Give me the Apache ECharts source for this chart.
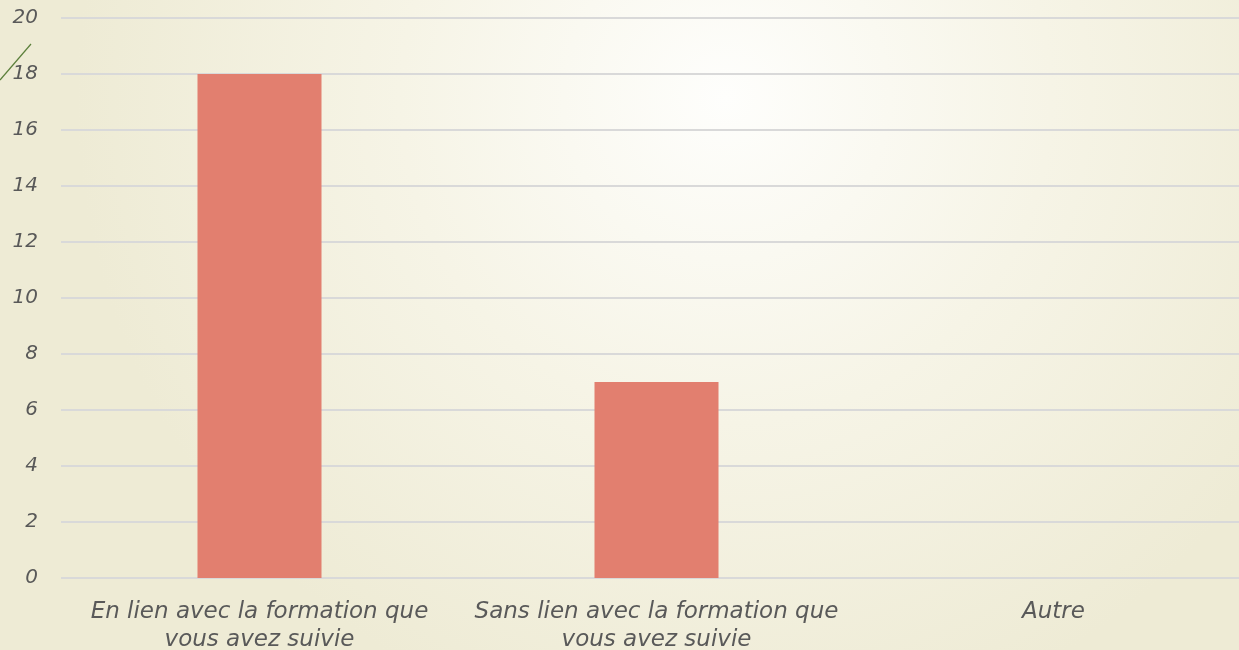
<!DOCTYPE html>
<html style="height: 100%">
    <head>
        <meta charset="utf-8">
        <script src="https://cdn.jsdelivr.net/npm/echarts@6/dist/echarts.min.js"></script>
    </head>
    <body style="height: 100%; margin: 0; overflow: hidden">
        <div id="container" style="height: 100%; width: 1252px"></div>
    </body>
<script>
var categories = ['En lien avec la formation que\nvous avez suivie', 'Sans lien avec la formation que\nvous avez suivie', 'Autre'];
var values = [18, 7, 0];
var yTicks = [0, 2, 4, 6, 8, 10, 12, 14, 16, 18, 20];

var myChart = echarts.init(document.getElementById('container'));
var labelFont = 'DejaVu Sans';

var option = {
    backgroundColor: {
        type: 'radial', x: 0.58, y: 0.15, r: 1.0,
        colorStops: [
            { offset: 0, color: '#fefefc' },
            { offset: 0.5, color: '#f6f4e6' },
            { offset: 1, color: '#eeebd5' }
        ]
    },
    animation: false,
    grid: { left: 61, right: 0, top: 18, bottom: 72, containLabel: false, outerBoundsMode: 'none' },
    xAxis: {
        type: 'category',
        data: categories,
        axisLine: { show: false },
        axisTick: { show: false },
        axisLabel: {
            color: '#595959', fontSize: 23, fontStyle: 'italic', fontFamily: labelFont,
            lineHeight: 28, margin: 20, interval: 0
        }
    },
    yAxis: {
        type: 'value',
        min: yTicks[0], max: yTicks[yTicks.length - 1], interval: 2,
        axisLine: { show: false },
        axisTick: { show: false },
        splitLine: { lineStyle: { color: '#d9d9d9', width: 2 } },
        axisLabel: {
            color: '#595959', fontSize: 20, fontStyle: 'italic', fontFamily: labelFont,
            margin: 23
        }
    },
    series: [{
        type: 'bar',
        data: values,
        barWidth: 124,
        itemStyle: { color: '#e27f6f' }
    }],
    graphic: [{
        type: 'line',
        shape: { x1: 0, y1: 80, x2: 31, y2: 44 },
        style: { stroke: '#5b7f3a', lineWidth: 1.2 }
    }]
};

myChart.setOption(option);
</script>
</html>
